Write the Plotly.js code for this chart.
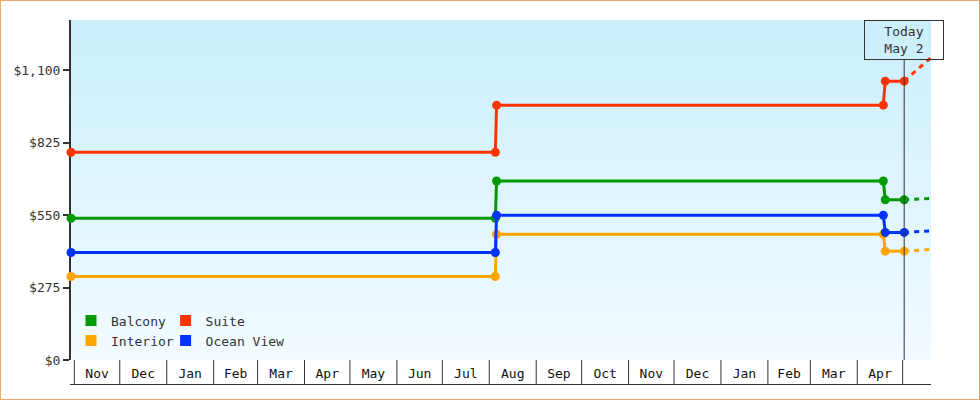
<!DOCTYPE html>
<html>
<head>
<meta charset="utf-8">
<script src="https://cdn.plot.ly/plotly-3.0.1.min.js"></script>
<style>
  html, body { margin: 0; padding: 0; background: #fff; }
  #wrap { position: relative; width: 980px; height: 400px; }
  #chart { position: absolute; left: 0; top: 0; width: 980px; height: 400px; }
  #frame { position: absolute; left: 0; top: 0; width: 980px; height: 400px;
           box-sizing: border-box; border: 1px solid #e8aa66; pointer-events: none; }
</style>
</head>
<body>
<div id="wrap"><div id="chart"></div><div id="frame"></div></div>
<script>
// ---- data ----
const seriesNames = ['Balcony', 'Suite', 'Interior', 'Ocean View'];
const seriesColors = ['#009a00', '#ff3300', '#ffa500', '#0033ff'];
const priceDates = ['2023-10-29 19:00', '2024-08-05 00:00', '2024-08-05 20:00',
                    '2025-04-18 05:00', '2025-04-19 12:00', '2025-05-02 00:00'];
const balcony   = [538, 538, 679, 679, 608, 608];
const suite     = [788, 788, 967, 967, 1058, 1058];
const interior  = [317, 317, 477, 477, 413, 413];
const oceanView = [408, 408, 549, 549, 484, 484];
const forecastDates = ['2025-05-02 00:00', '2025-06-01 00:00'];
const balconyForecast   = [608, 616];
const suiteForecast     = [1058, 1210];
const interiorForecast  = [413, 424];
const oceanViewForecast = [484, 494];
const monthLabels = ['Nov','Dec','Jan','Feb','Mar','Apr','May','Jun','Jul','Aug',
                     'Sep','Oct','Nov','Dec','Jan','Feb','Mar','Apr'];
const monthStarts = ['2023-11-01','2023-12-01','2024-01-01','2024-02-01','2024-03-01',
                     '2024-04-01','2024-05-01','2024-06-01','2024-07-01','2024-08-01',
                     '2024-09-01','2024-10-01','2024-11-01','2024-12-01','2025-01-01',
                     '2025-02-01','2025-03-01','2025-04-01','2025-05-01'];
const yTickVals = [0, 275, 550, 825, 1100];
const yTickText = ['$0', '$275', '$550', '$825', '$1,100'];
const xRange = ['2023-10-29 19:00', '2025-05-19 17:00'];
const yRange = [0, 1290];
const todayDate = '2025-05-02 00:00';
const todayText = 'Today<br>May 2';

// ---- build ----
const seriesValues = [balcony, suite, interior, oceanView];
const forecastValues = [balconyForecast, suiteForecast, interiorForecast, oceanViewForecast];
const drawOrder = [2, 0, 3, 1];
const legendOf = ['legend', 'legend2', 'legend', 'legend2'];

function ms(d) { return new Date(d.replace(' ', 'T') + (d.length > 10 ? ':00Z' : 'T00:00:00Z')).getTime(); }
const tickMids = [];
for (let i = 0; i < monthStarts.length - 1; i++) {
  tickMids.push((ms(monthStarts[i]) + ms(monthStarts[i + 1])) / 2);
}

const traces = [];
drawOrder.forEach(i => {
  traces.push({
    type: 'scatter', mode: 'lines', x: forecastDates, y: forecastValues[i],
    line: { color: seriesColors[i], width: 3, dash: '5px,5px' },
    showlegend: false, hoverinfo: 'skip'
  });
});
drawOrder.forEach(i => {
  traces.push({
    type: 'scatter', mode: 'lines+markers', x: priceDates, y: seriesValues[i],
    name: seriesNames[i],
    line: { color: seriesColors[i], width: 3 },
    marker: { color: seriesColors[i], size: 9, symbol: 'circle' },
    cliponaxis: false, showlegend: false
  });
});
[0, 2, 1, 3].forEach(i => {
  traces.push({
    type: 'scatter', mode: 'markers', x: [null], y: [null], name: seriesNames[i],
    marker: { color: seriesColors[i], size: 11, symbol: 'square' },
    legend: legendOf[i], showlegend: true
  });
});

const plotH = 340;
const shapes = monthStarts.map(d => ({
  type: 'line', xref: 'x', yref: 'paper', x0: d, x1: d, y0: 0, y1: -25 / plotH,
  line: { color: '#333', width: 1 }
}));
shapes.push({
  type: 'line', xref: 'paper', yref: 'paper', x0: -1 / 860, x1: 1, y0: -24.5 / plotH, y1: -24.5 / plotH,
  line: { color: '#333', width: 1 }
});
shapes.push({
  type: 'line', xref: 'x', yref: 'paper', x0: todayDate, x1: todayDate, y0: 0, y1: 300 / plotH,
  line: { color: '#333', width: 1 }
});

const grad = "<svg xmlns='http://www.w3.org/2000/svg' viewBox='0 0 10 100' preserveAspectRatio='none' width='10' height='100'>" +
  "<defs><linearGradient id='g' x1='0' y1='0' x2='0' y2='1'>" +
  "<stop offset='0' stop-color='#caeefc'/><stop offset='1' stop-color='#f2fbff'/></linearGradient></defs>" +
  "<rect x='0' y='0' width='10' height='100' fill='url(#g)'/></svg>";

const layout = {
  width: 980, height: 400,
  margin: { l: 71, r: 49, t: 20, b: 40, pad: 0 },
  paper_bgcolor: '#ffffff', plot_bgcolor: 'rgba(0,0,0,0)',
  font: { family: 'DejaVu Sans Mono, monospace', size: 13, color: '#333' },
  showlegend: true,
  xaxis: {
    type: 'date', range: xRange, tickvals: tickMids, ticktext: monthLabels,
    ticks: 'outside', ticklen: 1, tickcolor: 'rgba(0,0,0,0)',
    showgrid: false, zeroline: false, showline: false,
    tickfont: { color: '#111', size: 13 }, fixedrange: true
  },
  yaxis: {
    range: yRange, tickvals: yTickVals, ticktext: yTickText,
    ticks: 'outside', ticklen: 6, tickwidth: 2, tickcolor: '#333',
    showline: true, linewidth: 2, linecolor: '#333', layer: 'below traces',
    showgrid: false, zeroline: false, tickfont: { color: '#333', size: 13 }, fixedrange: true
  },
  legend: {
    x: 0.0, xanchor: 'left', y: 0.16, yanchor: 'top',
    bgcolor: 'rgba(0,0,0,0)', borderwidth: 0, tracegroupgap: 0,
    font: { size: 13, color: '#333' }
  },
  legend2: {
    x: 0.11, xanchor: 'left', y: 0.16, yanchor: 'top',
    bgcolor: 'rgba(0,0,0,0)', borderwidth: 0, tracegroupgap: 0,
    font: { size: 13, color: '#333' }
  },
  images: [{
    source: 'data:image/svg+xml;charset=utf-8,' + encodeURIComponent(grad),
    xref: 'paper', yref: 'paper', x: 0, y: 1, sizex: 1, sizey: 1,
    xanchor: 'left', yanchor: 'top', sizing: 'stretch', layer: 'below'
  }],
  shapes: shapes,
  annotations: [{
    xref: 'x', yref: 'paper', x: todayDate, y: 1, xanchor: 'center', yanchor: 'top',
    text: todayText, showarrow: false, width: 78, height: 38, align: 'center',
    bordercolor: '#333', borderwidth: 1, borderpad: 0,
    font: { size: 13, color: '#333' }
  }]
};

Plotly.newPlot('chart', traces, layout, { displayModeBar: false, staticPlot: true });
</script>
</body>
</html>
